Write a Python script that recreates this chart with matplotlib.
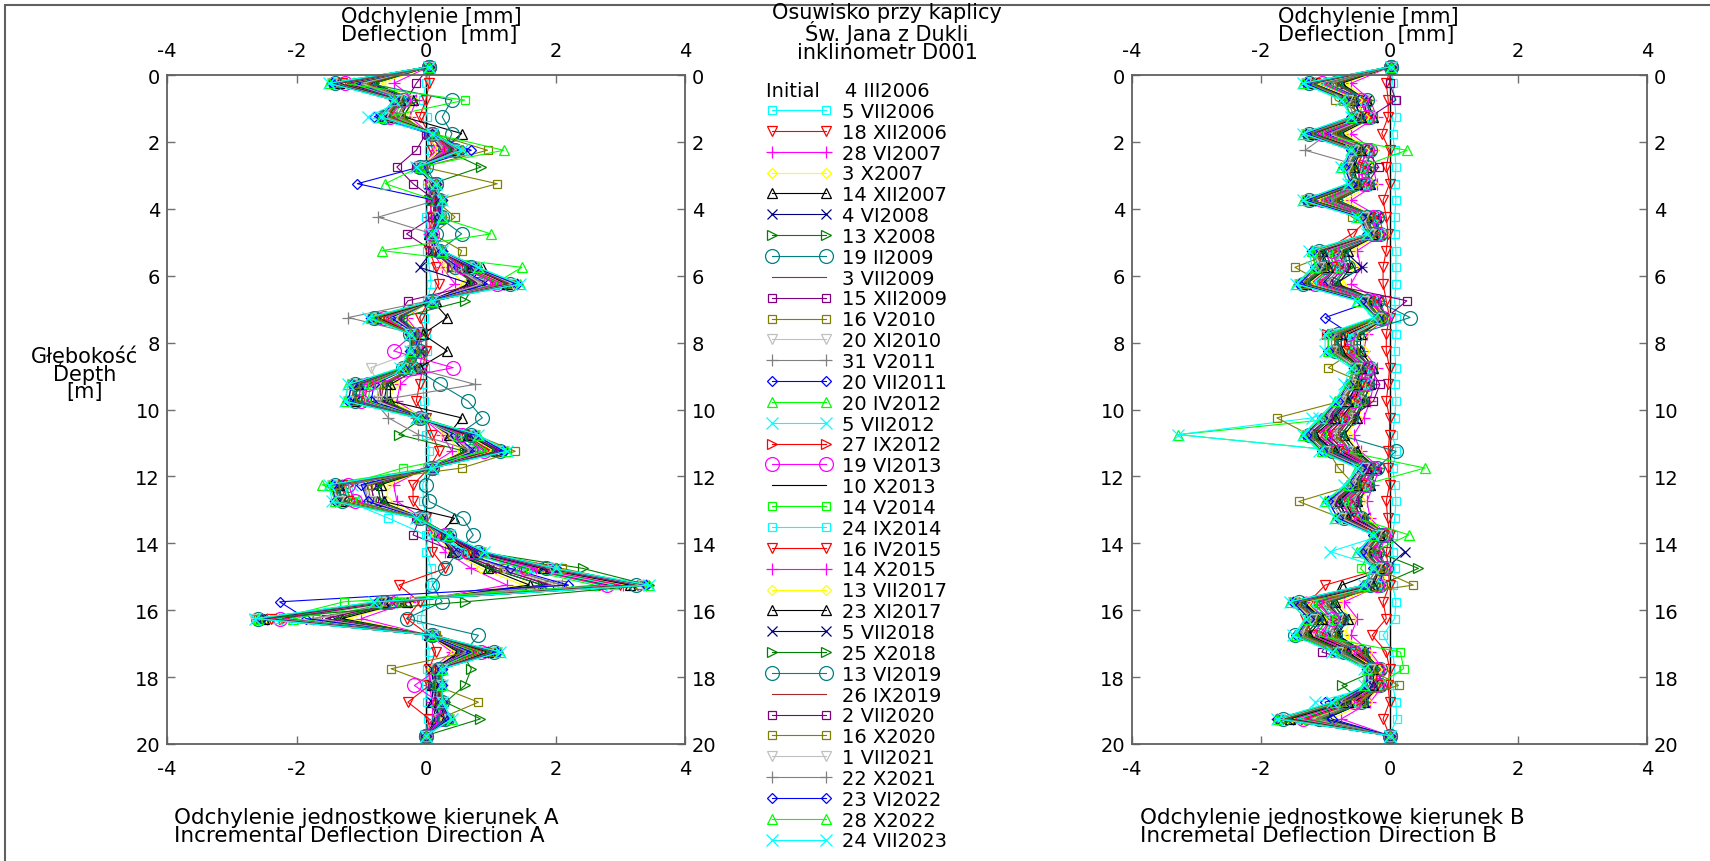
import matplotlib
matplotlib.use("Agg")
import matplotlib.pyplot as plt
from matplotlib.patches import Rectangle

plt.rcParams['font.family'] = ['DejaVu Sans']
plt.rcParams['axes.unicode_minus'] = False

## depth of every reading [m]
depth = [-0.25, 0.25, 0.75, 1.25, 1.75, 2.25, 2.75, 3.25, 3.75, 4.25, 4.75, 5.25, 5.75, 6.25,
         6.75, 7.25, 7.75, 8.25, 8.75, 9.25, 9.75, 10.25, 10.75, 11.25, 11.75, 12.25, 12.75,
         13.25, 13.75, 14.25, 14.75, 15.25, 15.75, 16.25, 16.75, 17.25, 17.75, 18.25, 18.75,
         19.25, 19.75]

dates = ["5 VII2006", "18 XII2006", "28 VI2007", "3 X2007", "14 XII2007", "4 VI2008",
         "13 X2008", "19 II2009", "3 VII2009", "15 XII2009", "16 V2010", "20 XI2010",
         "31 V2011", "20 VII2011", "20 IV2012", "5 VII2012", "27 IX2012", "19 VI2013",
         "10 X2013", "14 V2014", "24 IX2014", "16 IV2015", "14 X2015", "13 VII2017",
         "23 XI2017", "5 VII2018", "25 X2018", "13 VI2019", "26 IX2019", "2 VII2020",
         "16 X2020", "1 VII2021", "22 X2021", "23 VI2022", "28 X2022", "24 VII2023"]

## direction A, incremental deflection [mm]
a00 = [0.05, 0.0, -0.05, 0.02, 0.03, 0.05, 0.0, 0.02, 0.04, 0.0, 0.03, 0.02, 0.05, 0.08, 0.02, -0.03, 0.0, 0.02, -0.02, -0.05, -0.03, 0.0, 0.0, 0.05, 0.02, -0.05, -0.04, 0.0, 0.03, 0.0, 0.08, 0.1, -0.02, -0.08, 0.0, 0.05, 0.02, 0.0, 0.02, 0.03, 0.0]
a01 = [0.05, 0.05, 0.0, -0.1, 0.05, 0.1, 0.0, 0.05, 0.05, 0.1, 0.05, 0.05, 0.15, 0.2, 0.05, -0.1, 0.0, 0.0, -0.05, -0.1, -0.15, 0.0, 0.1, 0.2, 0.05, -0.2, -0.2, 0.0, 0.1, 0.1, 0.3, -0.42, -0.1, -0.3, 0.05, 0.15, 0.05, 0.05, -0.28, 0.05, 0.0]
a02 = [0.05, -0.5, -0.15, -0.25, 0.05, 0.15, -0.05, 0.05, 0.1, 0.05, 0.05, 0.1, 0.25, 0.45, 0.05, -0.3, -0.1, -0.05, -0.1, -0.4, -0.45, -0.05, 0.25, 0.4, 0.0, -0.5, -0.45, -0.05, 0.1, 0.3, 0.7, 1.25, -0.25, -1.0, 0.05, 0.4, 0.1, 0.05, 0.1, 0.1, 0.0]
a03 = [0.05, -0.7, -0.2, -0.3, 0.0, 0.2, -0.1, 0.05, 0.15, 0.1, 0.1, 0.1, 0.3, 0.6, 0.1, -0.35, -0.1, -0.15, -0.15, -0.5, -0.55, 0.0, 0.3, 0.55, 0.05, -0.6, -0.6, -0.05, 0.15, 0.4, 0.85, 1.5, -0.3, -1.2, 0.05, 0.45, 0.1, 0.1, 0.15, 0.15, 0.0]
a04 = [0.05, -0.8, -0.2, -0.35, 0.55, 0.25, -0.05, 0.1, 0.15, 0.15, 0.05, 0.15, 0.87, 0.65, 0.1, 0.33, -0.05, 0.33, -0.1, -0.55, -0.55, 0.55, 0.35, 0.6, 0.1, -0.7, -0.65, 0.44, 0.2, 0.4, 0.95, 1.6, -0.3, -1.3, 0.05, 0.5, 0.15, 0.1, 0.1, 0.15, 0.0]
a05 = [0.05, -0.85, -0.25, -0.4, 0.05, 0.25, -0.05, 0.05, 0.1, 0.15, 0.1, 0.1, -0.1, 0.7, 0.05, -0.4, -0.15, -0.1, -0.2, -0.6, -0.65, -0.05, 0.35, 0.6, 0.05, -0.75, -0.7, -0.05, 0.2, 0.4, 1.0, 1.8, -0.35, -1.4, 0.05, 0.55, 0.1, 0.1, 0.1, 0.2, 0.0]
a06 = [0.05, -0.8, -0.2, -0.35, 0.05, 0.3, 0.85, 0.1, 0.1, 0.15, 0.1, 0.15, 0.4, 0.75, 0.6, -0.4, -0.1, -0.1, -0.2, -0.6, -0.6, -0.05, -0.42, 0.6, 0.1, -0.75, -0.7, -0.1, 0.2, 0.45, 1.0, 1.8, -0.4, -1.4, 0.1, 0.55, 0.7, 0.6, 0.3, 0.84, 0.0]
a07 = [0.05, -0.9, 0.4, 0.25, 0.4, 0.3, 0.0, 0.15, 0.2, 0.2, 0.55, 0.2, 0.45, 0.8, 0.1, -0.4, -0.1, -0.1, -0.2, 0.22, 0.65, 0.87, 0.5, 0.7, 0.1, 0.0, 0.05, 0.57, 0.73, 0.5, 0.3, 0.1, 0.25, -0.3, 0.81, 0.6, 0.2, 0.15, 0.2, 0.2, 0.0]
a08 = [0.05, -0.9, -0.3, -0.4, 0.05, 0.25, -0.05, 0.05, 0.15, 0.1, 0.1, 0.15, 0.4, 0.8, 0.05, -0.45, -0.15, -0.15, -0.2, -0.65, -0.7, -0.05, 0.4, 0.65, 0.05, -0.85, -0.8, -0.05, 0.2, 0.45, 1.1, 1.95, -0.4, -1.55, 0.05, 0.6, 0.15, 0.15, 0.15, 0.2, 0.0]
a09 = [0.05, -0.15, -0.3, -0.45, 0.0, -0.15, -0.45, -0.2, 0.15, 0.1, -0.3, 0.1, 0.4, 0.8, -0.28, -0.45, -0.15, -0.15, -0.2, -0.7, -0.7, -0.05, 0.4, 0.7, 0.05, -0.85, -0.8, -0.1, -0.2, 0.45, 1.1, 1.9, -0.4, -1.55, 0.05, 0.6, 0.15, 0.1, 0.15, 0.2, 0.0]
a10 = [0.05, -0.95, -0.3, -0.4, 0.1, 0.95, -0.05, 1.1, 0.15, 0.45, 0.1, 0.55, 0.45, 0.85, 0.1, -0.5, -0.15, -0.15, -0.2, -0.7, -0.75, -0.05, 0.4, 0.7, 0.05, -0.9, -0.85, -0.05, 0.2, 0.5, 1.2, 2.1, -0.4, -1.7, 0.05, 0.65, -0.54, 0.15, 0.81, 0.2, 0.0]
a11 = [0.05, -1.0, -0.3, -0.45, 0.05, 0.3, -0.1, 0.1, 0.15, 0.15, 0.05, 0.15, 0.45, 0.85, 0.05, -0.5, -0.15, -0.15, -0.85, -0.75, -0.75, -0.1, 0.4, 0.7, 0.05, -0.95, -0.85, -0.05, 0.2, 0.5, 1.2, 2.0, -0.45, -1.7, 0.05, 0.65, 0.15, 0.15, 0.15, 0.2, 0.0]
a12 = [0.05, -1.05, -0.3, -0.45, 0.1, 0.3, -0.05, 0.1, 0.15, -0.74, 0.1, 0.15, 0.45, 0.9, 0.05, -1.2, -0.15, -0.15, -0.2, 0.76, -0.8, -0.58, -0.12, 0.75, 0.05, -0.95, -0.9, -0.05, 0.2, 0.5, 1.25, 2.1, -0.45, -1.75, 0.05, 0.65, 0.15, 0.15, 0.15, 0.2, 0.0]
a13 = [0.05, -1.1, -0.35, -0.8, 0.05, 0.7, -0.1, -1.06, 0.15, 0.15, 0.1, 0.15, 0.5, 0.95, 0.05, -0.55, -0.15, -0.15, -0.25, -0.8, -0.85, -0.05, 0.45, 0.75, 0.05, -1.0, -0.9, -0.1, 0.25, 0.5, 1.3, 2.2, -2.26, -1.85, 0.05, 0.7, 0.15, 0.15, 0.15, 0.2, 0.0]
a14 = [0.05, -1.15, -0.35, -0.5, 0.1, 1.2, -0.1, -0.63, 0.15, 0.2, 1.0, -0.68, 1.48, 1.05, 0.1, -0.6, -0.2, -0.15, -0.25, -0.85, -0.9, -0.1, 0.5, 0.85, 0.05, -1.6, -1.05, -0.1, 0.25, 0.6, 1.45, 2.6, -0.5, -2.05, 0.1, 0.75, 0.15, 0.2, 0.15, 0.25, 0.0]
a15 = [0.05, -1.2, -0.35, -0.9, 0.1, 0.35, -0.1, 0.1, 0.2, 0.2, 0.1, 0.2, 0.55, 1.1, 0.1, -0.65, -0.2, -0.2, -0.25, -0.9, -0.95, -0.1, 0.55, 0.9, 0.1, -1.15, -1.1, -0.1, 0.25, 0.6, 1.5, 2.7, -0.55, -2.15, 0.1, 0.8, 0.2, 0.2, 0.2, 0.25, 0.0]
a16 = [0.05, -1.2, -0.4, -0.55, 0.1, 0.35, -0.1, 0.1, 0.2, 0.15, 0.1, 0.2, 0.55, 1.1, 0.1, -0.65, -0.2, -0.15, -0.3, -0.9, -0.95, -0.1, 0.55, 0.95, 0.1, -1.2, -1.1, -0.1, 0.3, 0.65, 1.55, 2.75, -0.55, -2.2, 0.1, 0.8, 0.2, 0.2, 0.2, 0.25, 0.0]
a17 = [0.05, -1.25, -0.35, -0.55, 0.1, 0.35, -0.1, 0.1, 0.2, 0.2, 0.1, 0.2, 0.55, 1.1, 0.1, -0.65, -0.2, -0.5, 0.42, -0.9, -1.0, -0.1, 0.55, 0.9, 0.1, -1.2, -1.1, -0.1, 0.3, 0.65, 1.55, 2.8, -0.55, -2.25, 0.1, 0.85, 0.2, -0.18, 0.2, 0.25, 0.0]
a18 = [0.05, -1.25, -0.4, -0.6, 0.1, 0.4, -0.1, 0.1, 0.2, 0.2, 0.1, 0.2, 0.6, 1.15, 0.1, -0.7, -0.2, -0.2, -0.3, -0.95, -1.0, -0.1, 0.6, 0.95, 0.1, -1.25, -1.15, -0.1, 0.3, 0.65, 1.6, 2.85, -0.55, -2.3, 0.1, 0.85, 0.2, 0.2, 0.2, 0.3, 0.0]
a19 = [0.05, -1.3, 0.6, -0.6, 0.1, 0.4, -0.1, 0.1, 0.2, 0.2, 0.1, 0.2, 0.6, 1.15, 0.1, -0.7, -0.2, -0.2, -0.3, -0.95, -1.0, -0.1, 0.6, 0.95, -0.36, -1.25, -1.15, -0.1, 0.3, 0.7, 1.6, 2.9, -1.27, -2.3, 0.1, 0.85, 0.2, 0.2, 0.2, 0.3, 0.0]
a20 = [0.05, -1.3, -0.4, -0.6, 0.1, 0.4, -0.1, 0.1, 0.2, 0.2, 0.1, 0.2, 0.6, 1.2, 0.1, -0.7, -0.2, -0.2, -0.3, -1.0, -1.0, -0.1, 0.6, 1.0, 0.1, -1.25, -1.2, -0.58, 0.0, 0.7, 1.65, 2.9, -0.6, -2.35, 0.1, 0.9, 0.2, 0.2, 0.2, 0.3, 0.0]
a21 = [0.05, -1.3, -0.45, -0.6, 0.1, 0.4, -0.1, 0.1, 0.2, 0.2, 0.1, 0.2, 0.6, 1.2, 0.1, -0.7, -0.2, -0.2, -0.3, -1.0, -1.05, -0.1, 0.6, 1.0, 0.1, -1.3, -1.2, -0.1, 0.3, 0.7, 1.7, 3.0, -0.6, -2.4, 0.1, 0.9, 0.2, 0.2, 0.2, 0.3, 0.0]
a22 = [0.05, -1.35, -0.4, -0.65, 0.1, 0.45, -0.1, 0.15, 0.2, 0.2, 0.1, 0.25, 0.65, 1.2, 0.1, -0.75, -0.2, -0.2, -0.3, -1.0, -1.05, -0.1, 0.65, 1.05, 0.1, -1.3, -1.25, -0.1, 0.35, 0.75, 1.7, 3.05, -0.6, -2.45, 0.15, 0.95, 0.2, 0.2, 0.25, 0.3, 0.0]
a23 = [0.05, -1.35, -0.45, -0.65, 0.1, 0.45, -0.1, 0.1, 0.25, 0.2, 0.1, 0.2, 0.65, 1.25, 0.1, -0.75, -0.25, -0.2, -0.3, -1.05, -1.1, -0.1, 0.65, 1.05, 0.1, -1.35, -1.25, -0.1, 0.3, 0.75, 1.8, 3.1, -0.65, -2.5, 0.1, 0.95, 0.2, 0.2, 0.2, 0.3, 0.0]
a24 = [0.05, -1.35, -0.4, -0.6, 0.15, 0.45, -0.1, 0.15, 0.2, 0.25, 0.1, 0.2, 0.7, 1.25, 0.15, -0.75, -0.2, -0.2, -0.35, -1.05, -1.1, -0.1, 0.65, 1.1, 0.1, -1.35, -1.3, -0.1, 0.35, 0.75, 1.8, 3.15, -0.65, -2.5, 0.1, 0.95, 0.25, 0.2, 0.2, 0.3, 0.0]
a25 = [0.05, -1.4, -0.45, -0.65, 0.1, 0.45, -0.15, 0.1, 0.2, 0.2, 0.1, 0.2, 0.65, 1.3, 0.1, -0.8, -0.25, -0.25, -0.35, -1.05, -1.1, -0.15, 0.65, 1.1, 0.1, -1.35, -1.3, -0.15, 0.3, 0.75, 1.8, 3.2, -0.65, -2.55, 0.1, 1.0, 0.2, 0.2, 0.2, 0.3, 0.0]
a26 = [0.05, -1.4, -0.4, -0.6, 0.1, 0.45, -0.1, 0.15, 0.25, 0.2, 0.1, 0.25, 0.7, 1.3, 0.1, -0.8, -0.2, -0.2, -0.3, -1.05, -1.1, -0.1, 0.7, 1.1, 0.1, -1.35, -1.3, -0.1, 0.35, 0.8, 2.42, 3.44, 0.6, -2.55, 0.1, 1.0, 0.25, 0.2, 0.25, 0.35, 0.0]
a27 = [0.05, -1.4, -0.45, -0.65, 0.1, 0.45, -0.1, 0.15, 0.2, 0.25, 0.15, 0.2, 0.7, 1.3, 0.1, -0.8, -0.25, -0.2, -0.35, -1.1, -1.1, -0.1, 0.7, 1.15, 0.1, -1.4, -1.3, -0.1, 0.35, 0.8, 1.85, 3.25, -0.65, -2.6, 0.1, 1.05, 0.2, 0.2, 0.25, 0.3, 0.0]
a28 = [0.05, -1.4, -0.45, -0.6, 0.1, 0.5, -0.1, 0.1, 0.25, 0.2, 0.1, 0.25, 0.7, 1.3, 0.1, -0.8, -0.2, -0.25, -0.35, -1.1, -1.15, -0.1, 0.7, 1.15, 0.1, -1.4, -1.35, -0.1, 0.35, 0.8, 1.85, 3.25, -0.7, -2.6, 0.1, 1.05, 0.25, 0.2, 0.2, 0.35, 0.0]
a29 = [0.05, -1.4, -0.45, -0.65, 0.1, 0.45, -0.15, 0.15, 0.2, 0.2, 0.1, 0.2, 0.7, 1.35, 0.1, -0.8, -0.25, -0.2, -0.35, -1.1, -1.15, -0.1, 0.7, 1.15, 0.1, -1.4, -1.35, -0.15, 0.3, 0.8, 1.9, 3.3, -0.7, -2.6, 0.1, 1.05, 0.2, 0.25, 0.2, 0.35, 0.0]
a30 = [0.05, -1.4, -0.45, -0.6, 0.1, 0.5, -0.1, 0.15, 0.25, 0.25, 0.1, 0.25, 0.75, 1.35, 0.1, -0.8, -0.2, -0.2, -0.35, -1.1, -1.15, -0.1, 0.75, 1.38, 0.55, -1.4, -1.35, -0.1, 0.35, 0.85, 2.1, 3.3, -0.7, -2.6, 0.15, 1.05, 0.25, 0.2, 0.25, 0.35, 0.0]
a31 = [0.05, -1.45, -0.45, -0.65, 0.1, 0.5, -0.1, 0.1, 0.25, 0.2, 0.1, 0.2, 0.75, 1.35, 0.1, -0.85, -0.25, -0.25, -0.35, -1.15, -1.2, -0.1, 0.75, 1.2, 0.1, -1.45, -1.35, -0.1, 0.35, 0.85, 1.95, 3.35, -0.7, -2.65, 0.1, 1.1, 0.25, 0.25, 0.25, 0.35, 0.0]
a32 = [0.05, -1.45, -0.5, -0.7, 0.1, 0.5, -0.1, 0.15, 0.25, 0.25, 0.1, 0.25, 0.75, 1.4, 0.1, -0.85, -0.25, -0.25, -0.35, -1.15, -1.2, -0.15, 0.75, 1.2, 0.1, -1.45, -1.4, -0.1, 0.35, 0.85, 1.95, 3.4, -0.7, -2.6, 0.1, 1.1, 0.25, 0.25, 0.25, 0.35, 0.0]
a33 = [0.05, -1.45, -0.5, -0.7, 0.1, 0.55, -0.1, 0.15, 0.25, 0.2, 0.1, 0.25, 0.75, 1.4, 0.1, -0.85, -0.25, -0.25, -0.35, -1.15, -1.2, -0.1, 0.75, 1.2, 0.1, -1.45, -1.4, -0.1, 0.35, 0.85, 2.0, 3.4, -0.75, -2.55, 0.1, 1.1, 0.25, 0.25, 0.25, 0.35, 0.0]
a34 = [0.05, -1.5, -0.5, -0.7, 0.15, 0.55, -0.1, 0.15, 0.25, 0.25, 0.1, 0.25, 0.8, 1.45, 0.1, -0.85, -0.25, -0.25, -0.35, -1.2, -1.25, -0.1, 0.8, 1.25, 0.1, -1.5, -1.4, -0.1, 0.35, 0.9, 2.0, 3.45, -0.75, -2.6, 0.1, 1.15, 0.25, 0.25, 0.25, 0.4, 0.0]
a35 = [0.05, -1.5, -0.5, -0.7, 0.1, 0.55, -0.15, 0.15, 0.25, 0.25, 0.1, 0.25, 0.8, 1.45, 0.1, -0.9, -0.25, -0.25, -0.4, -1.2, -1.25, -0.15, 0.8, 1.25, 0.1, -1.5, -1.45, -0.15, 0.35, 0.9, 2.0, 3.45, -0.8, -2.64, 0.1, 1.15, 0.25, 0.25, 0.25, 0.4, 0.0]

## direction B, incremental deflection [mm]
b00 = [0.03, 0.05, 0.08, 0.1, 0.05, 0.08, 0.1, 0.08, 0.1, 0.08, 0.08, 0.1, 0.1, 0.1, 0.08, 0.1, 0.1, 0.08, 0.1, 0.08, 0.1, 0.08, 0.05, 0.1, 0.05, 0.08, 0.1, 0.08, 0.05, 0.05, 0.08, 0.05, 0.1, 0.08, -0.1, 0.05, 0.08, 0.05, 0.1, 0.11, 0.0]
b01 = [0.02, -0.05, -0.02, -0.02, -0.12, 0.0, -0.05, 0.0, -0.1, -0.05, -0.02, -0.05, -0.1, -0.1, -0.05, 0.0, -0.05, -0.05, 0.0, -0.02, -0.05, 0.0, 0.0, -0.02, -0.02, 0.0, -0.05, -0.03, 0.0, -0.05, -0.02, 0.0, -0.1, -0.05, -0.27, -0.05, 0.0, -0.02, 0.0, -0.1, 0.0]
b02 = [0.02, -0.6, -0.3, -0.2, -0.6, -0.25, -0.25, -0.2, -0.6, -0.15, -0.1, -0.5, -0.45, -0.6, -0.15, -0.05, -0.35, -0.4, -0.2, -0.25, -0.3, -0.4, -0.55, -0.45, -0.15, -0.25, -0.35, -0.3, -0.05, -0.15, -0.05, -0.15, -0.7, -0.5, -0.6, -0.3, -0.1, -0.1, -0.3, -0.75, 0.0]
b03 = [0.02, -0.7, -0.3, -0.25, -0.7, -0.25, -0.3, -0.25, -0.7, -0.2, -0.1, -0.6, -0.55, -0.75, -0.2, -0.05, -0.4, -0.4, -0.25, -0.3, -0.35, -0.5, -0.65, -0.5, -0.2, -0.3, -0.45, -0.35, -0.05, -0.2, -0.05, -0.1, -0.8, -0.6, -0.7, -0.35, -0.1, -0.15, -0.35, -0.9, 0.0]
b04 = [0.02, -0.75, -0.35, -0.25, -0.75, -0.3, -0.35, -0.3, -1.26, -0.2, -0.15, -0.65, -0.6, -0.8, -0.2, -0.05, -0.45, -0.45, -0.25, -0.3, -0.4, -0.5, -0.7, -0.5, -0.2, -0.3, -0.5, -0.4, -0.05, -0.2, -0.05, -0.74, -0.85, -0.65, -0.8, -0.4, -0.15, -0.15, -0.4, -1.0, 0.0]
b05 = [0.02, -0.8, -0.35, -0.3, -0.8, -0.3, -0.35, -0.3, -0.8, -0.2, -0.15, -0.7, -0.43, -0.85, -0.2, -0.05, -0.5, -0.5, -0.3, -0.3, -0.4, -0.55, -0.75, -0.55, -0.2, -0.3, -0.5, -0.4, -0.05, 0.24, -0.05, -0.15, -0.9, -0.7, -0.8, -0.4, -0.15, -0.15, -0.4, -1.0, 0.0]
b06 = [0.02, -0.8, -0.35, -0.3, -0.8, -0.3, -0.35, -0.3, -0.8, -0.2, -0.15, -0.7, -0.65, -0.85, -0.2, -0.05, -0.5, -0.5, -0.3, -0.3, -0.4, -0.55, -0.75, -0.55, -0.2, -0.3, -0.5, -0.4, -0.05, -0.2, 0.45, -0.15, -0.9, -0.7, -0.85, -0.4, -0.15, -0.74, -0.4, -1.05, 0.0]
b07 = [0.02, -0.85, -0.35, -0.3, -0.85, -0.3, -0.35, -0.35, -0.85, -0.2, -0.15, -0.75, -0.65, -0.9, -0.2, 0.32, -0.5, -0.5, -0.3, -0.35, -0.45, -0.6, -0.8, 0.1, -0.2, -0.35, -0.55, -0.45, -0.05, -0.2, -0.05, -0.15, -0.95, -0.75, -0.85, -0.45, -0.15, -0.15, -0.45, -1.1, 0.0]
b08 = [0.02, -0.85, -0.4, -0.3, -0.85, -0.3, -0.4, -0.35, -0.85, -0.25, -0.15, -0.75, -0.7, -0.95, -0.25, -0.05, -0.55, -0.55, -0.3, -0.35, -0.45, -0.6, -0.8, -0.6, -0.25, -0.35, -0.55, -0.45, -0.05, -0.25, -0.05, -0.15, -1.0, -0.75, -0.9, -0.45, -0.15, -0.15, -0.45, -1.1, 0.0]
b09 = [0.02, 0.0, 0.1, -0.3, -0.9, -0.35, -0.17, -0.35, -0.9, -0.25, -0.15, -0.8, -0.7, -0.95, 0.27, -0.05, -0.55, -0.55, -0.3, -0.15, -0.25, -0.6, -0.85, -0.6, -0.25, -0.35, -0.55, -0.45, -0.05, -0.25, -0.05, -0.15, -1.0, -0.75, -0.9, -1.05, -0.15, -0.15, -0.45, -1.15, 0.0]
b10 = [0.02, -0.9, -0.84, -0.3, -0.9, -0.3, -0.4, -0.35, -0.9, -0.58, -0.15, -0.8, -1.47, -1.0, -0.25, -0.05, -0.55, -0.55, -0.95, -0.35, -0.45, -0.65, -0.85, -0.6, -0.25, -0.35, -0.6, -0.45, -0.05, -0.25, -0.05, -0.15, -1.0, -0.8, -0.9, -0.45, -0.15, -0.15, -0.45, -1.15, 0.0]
b11 = [0.02, -0.95, -0.4, -0.3, -0.95, -0.3, -0.4, -0.35, -0.95, -0.25, -0.15, -0.8, -0.75, -1.0, -0.25, -0.05, -0.55, -0.6, -0.3, -0.35, -0.5, -0.65, -0.9, -0.65, -0.25, -0.35, -0.6, -0.5, -0.05, -0.25, -0.05, -0.15, -1.05, -0.8, -0.95, -0.5, -0.15, -0.15, -0.5, -1.2, 0.0]
b12 = [0.02, -0.95, -0.4, -0.35, -0.95, -1.31, -0.4, -0.35, -0.95, -0.25, -0.15, -0.85, -0.75, -1.0, -0.25, -0.1, -0.6, -0.6, -0.35, -0.35, -0.5, -0.65, -0.9, -0.65, -0.25, -0.35, -0.6, -0.5, -0.1, -0.25, -0.1, -0.15, -1.05, -0.8, -0.95, -0.5, -0.15, -0.15, -0.5, -1.1, 0.0]
b13 = [0.02, -1.0, -0.4, -0.35, -1.0, -0.35, -0.45, -0.4, -1.0, -0.25, -0.15, -0.85, -0.8, -1.05, -0.25, -1.0, -0.6, -0.6, -0.35, -0.4, -0.5, -0.7, -0.95, -0.7, -0.25, -0.4, -0.65, -0.5, -0.1, -0.25, -0.1, -0.15, -1.5, -0.85, -1.0, -0.5, -0.15, -0.15, -1.0, -0.9, 0.0]
b14 = [0.02, -1.0, -0.45, -0.35, -1.26, 0.27, -0.45, -0.4, -1.0, -0.25, -0.2, -0.85, -0.8, -1.1, -0.25, -0.1, -0.6, -0.6, -0.35, -0.4, -0.5, -0.7, -3.28, -0.7, 0.55, -0.4, -0.65, -0.5, 0.3, -0.25, -0.1, -0.2, -1.1, -0.85, -1.0, -0.5, -0.2, -0.2, -0.5, -1.25, 0.0]
b15 = [0.02, -1.05, -0.45, -0.35, -1.05, -0.35, -0.45, -0.4, -1.05, -0.25, -0.2, -0.9, -0.8, -1.1, -0.25, -0.1, -0.6, -0.65, -0.35, -0.4, -0.55, -1.2, -3.28, -0.7, -0.25, -0.4, -0.65, -0.55, -0.1, -0.92, -0.1, -0.2, -1.1, -0.85, -1.05, -0.5, -0.2, -0.2, -1.15, -1.3, 0.0]
b16 = [0.02, -1.05, -0.45, -0.35, -1.05, -0.35, -0.45, -0.4, -1.05, -0.25, -0.2, -0.9, -0.8, -1.1, -0.25, -0.1, -0.97, -0.65, -0.35, -0.4, -0.55, -0.7, -0.95, -0.7, -0.25, -0.4, -0.65, -0.55, -0.1, -0.25, -0.1, -0.2, -1.1, -0.9, -1.05, -0.5, -0.2, -0.2, -0.5, -1.3, 0.0]
b17 = [0.02, -1.05, -0.45, -0.35, -1.05, -0.35, -0.45, -0.4, -1.05, -0.25, -0.2, -0.9, -0.8, -1.15, -0.25, -0.1, -0.65, -0.65, -0.35, -0.4, -0.55, -0.75, -1.0, -0.75, -0.25, -0.4, -0.7, -0.55, -0.1, -0.25, -0.1, -0.2, -1.15, -0.9, -1.1, -0.55, -0.2, -0.2, -0.55, -1.35, 0.0]
b18 = [0.02, -1.1, -0.5, -0.4, -1.1, -0.4, -0.5, -0.45, -1.1, -0.3, -0.2, -0.95, -0.85, -1.2, -0.3, -0.1, -0.65, -0.7, -0.4, -0.45, -0.55, -0.75, -1.05, -0.75, -0.3, -0.45, -0.7, -0.55, -0.1, -0.3, -0.1, -0.2, -1.2, -0.95, -1.15, -0.55, -0.2, -0.2, -0.55, -1.4, 0.0]
b19 = [0.02, -1.1, -0.5, -0.4, -1.1, -0.4, -0.5, -0.45, -1.1, -0.3, -0.2, -0.95, -0.85, -1.2, -0.3, -0.1, -0.7, -0.7, -0.4, -0.45, -0.6, -0.8, -1.05, -0.8, -0.3, -0.45, -0.7, -0.6, -0.1, -0.3, -0.45, -0.2, -1.2, -0.95, -1.15, 0.17, 0.22, -0.2, -0.6, -1.4, 0.0]
b20 = [0.02, -1.1, -0.5, -0.4, -1.15, -0.4, -0.5, -0.45, -1.15, -0.3, -0.2, -1.0, -0.9, -1.2, -0.3, -0.1, -0.7, -0.7, -0.4, -0.45, -0.6, -0.8, -1.1, -0.8, -0.3, -0.45, -0.75, -0.6, -0.1, -0.3, -0.1, -0.2, -1.25, -1.0, -1.2, -0.6, -0.2, -0.2, -0.6, -1.45, 0.0]
b21 = [0.02, -1.15, -0.5, -0.4, -1.15, -0.4, -0.5, -0.45, -1.15, -0.3, -0.58, -1.0, -0.9, -1.25, -0.3, -0.1, -0.7, -0.7, -0.4, -0.45, -0.6, -0.8, -1.1, -0.8, -0.3, -0.45, -0.75, -0.6, -0.1, -0.3, -0.1, -1.0, -1.25, -1.31, -1.2, -0.6, -0.2, -0.2, -0.6, -1.5, 0.0]
b22 = [0.02, -1.15, -0.55, -0.45, -1.15, -0.45, -0.5, -0.45, -1.15, -0.3, -0.2, -1.0, -0.9, -1.25, -0.3, -0.1, -0.75, -0.75, -0.4, -0.5, -0.6, -0.85, -1.1, -0.8, -0.3, -0.5, -0.75, -0.6, -0.1, -0.3, -0.1, -0.25, -1.3, -1.0, -1.2, -0.6, -0.25, -0.2, -0.6, -1.5, 0.0]
b23 = [0.02, -1.15, -0.5, -0.4, -1.2, -0.4, -0.55, -0.5, -1.15, -0.35, -0.2, -1.05, -0.95, -1.25, -0.35, -0.1, -0.75, -0.75, -0.45, -0.5, -0.65, -0.85, -1.15, -0.85, -0.35, -0.5, -0.8, -0.65, -0.1, -0.35, -0.1, -0.25, -1.3, -1.05, -1.25, -0.65, -0.2, -0.25, -0.65, -1.55, 0.0]
b24 = [0.02, -1.2, -0.55, -0.45, -1.2, -0.45, -0.55, -0.5, -1.2, -0.35, -0.25, -1.05, -0.95, -1.3, -0.35, -0.15, -0.75, -0.75, -0.45, -0.5, -0.65, -0.85, -1.15, -0.85, -0.35, -0.5, -0.8, -0.65, -0.15, -0.35, -0.15, -0.25, -1.35, -1.05, -1.25, -0.65, -0.25, -0.25, -0.65, -1.55, 0.0]
b25 = [0.02, -1.2, -0.55, -0.45, -1.2, -0.45, -0.6, -0.5, -1.2, -0.35, -0.25, -1.05, -1.0, -1.3, -0.35, -0.15, -0.8, -0.8, -0.45, -0.5, -0.65, -0.9, -1.2, -0.85, -0.35, -0.5, -0.8, -0.65, -0.15, -0.35, -0.15, -0.3, -1.35, -1.1, -1.3, -0.7, -0.25, -0.25, -0.7, -1.6, 0.0]
b26 = [0.02, -1.2, -0.6, -0.5, -1.2, -0.5, -0.6, -0.5, -1.2, -0.35, -0.25, -1.1, -1.0, -1.3, -0.35, -0.15, -0.8, -0.8, -0.45, -0.55, -0.7, -0.9, -1.2, -0.9, -0.35, -0.5, -0.85, -0.7, -0.15, -0.35, -0.15, -0.3, -1.4, -1.1, -1.3, -0.7, -0.25, -0.3, -0.7, -1.6, 0.0]
b27 = [0.02, -1.25, -0.6, -0.5, -1.25, -0.5, -0.6, -0.55, -1.25, -0.35, -0.25, -1.1, -1.0, -1.35, -0.35, -0.15, -0.8, -0.85, -0.5, -0.55, -0.7, -0.9, -1.25, -0.9, -0.35, -0.55, -0.85, -0.7, -0.15, -0.35, -0.15, -0.3, -1.4, -1.15, -1.47, -0.7, -0.3, -0.3, -0.7, -1.65, 0.0]
b28 = [0.02, -1.25, -0.6, -0.5, -1.25, -0.5, -0.65, -0.55, -1.25, -0.4, -0.25, -1.1, -1.05, -1.35, -0.4, -0.15, -0.85, -0.85, -0.5, -0.55, -0.7, -0.95, -1.25, -0.95, -0.4, -0.55, -0.85, -0.7, -0.15, -0.4, -0.15, -0.3, -1.45, -1.15, -1.35, -0.75, -0.3, -0.3, -0.75, -1.65, 0.0]
b29 = [0.02, -1.25, -0.6, -0.5, -1.25, -0.5, -0.65, -0.55, -1.25, -0.4, -0.3, -1.15, -1.05, -1.35, -0.4, -0.15, -0.85, -0.85, -0.5, -0.55, -0.75, -0.95, -1.25, -0.95, -0.4, -0.55, -0.9, -0.75, -0.2, -0.4, -0.2, -0.35, -1.45, -1.2, -1.35, -0.75, -0.3, -0.3, -0.75, -1.7, 0.0]
b30 = [0.02, -1.25, -0.6, -0.5, -1.25, -0.5, -0.65, -0.55, -1.25, -0.4, -0.3, -1.15, -1.05, -1.35, -0.4, -0.15, -0.85, -0.85, -0.5, -0.55, -0.75, -1.75, -1.25, -0.95, -0.79, -0.55, -1.41, -0.75, -0.2, -0.4, -0.2, 0.37, -1.45, -1.2, -1.35, -0.75, -0.3, 0.14, -0.75, -1.7, 0.0]
b31 = [0.02, -1.3, -0.65, -0.55, -1.3, -0.55, -0.65, -0.6, -1.3, -0.4, -0.3, -1.15, -1.1, -1.4, -0.4, -0.2, -0.9, -0.9, -0.5, -0.6, -0.75, -1.0, -1.3, -1.0, -0.4, -0.6, -0.9, -0.75, -0.2, -0.4, -0.2, -0.35, -1.5, -1.2, -1.4, -0.8, -0.3, -0.35, -0.8, -1.7, 0.0]
b32 = [0.02, -1.3, -0.65, -0.55, -1.3, -0.55, -0.7, -0.6, -1.3, -0.45, -0.3, -1.2, -1.1, -1.4, -0.45, -0.2, -0.9, -0.9, -0.55, -0.6, -0.8, -1.0, -1.3, -1.0, -0.45, -0.6, -0.95, -0.8, -0.2, -0.45, -0.2, -0.35, -1.5, -1.25, -1.4, -0.8, -0.35, -0.35, -0.8, -1.75, 0.0]
b33 = [0.02, -1.3, -0.7, -0.6, -1.3, -0.6, -0.7, -0.6, -1.3, -0.45, -0.35, -1.2, -1.15, -1.4, -0.45, -0.2, -0.95, -0.95, -0.55, -0.65, -0.8, -1.05, -1.3, -1.05, -0.45, -0.65, -0.95, -0.8, -0.25, -0.45, -0.25, -0.4, -1.5, -1.25, -1.45, -0.85, -0.35, -0.35, -0.85, -1.75, 0.0]
b34 = [0.02, -1.35, -0.7, -0.6, -1.35, -0.6, -0.75, -0.65, -1.35, -0.5, -0.35, -1.2, -1.15, -1.45, -0.5, -0.2, -0.95, -0.95, -0.55, -0.65, -0.85, -1.05, -1.35, -1.05, -0.5, -0.65, -1.0, -0.85, -0.25, -0.5, -0.25, -0.4, -1.55, -1.3, -1.45, -0.85, -0.35, -0.4, -0.85, -1.75, 0.0]
b35 = [0.02, -1.35, -0.75, -0.6, -1.35, -0.6, -0.75, -0.65, -1.35, -0.5, -0.35, -1.25, -1.2, -1.45, -0.5, -0.25, -1.0, -1.0, -0.6, -0.7, -0.85, -1.1, -1.35, -1.1, -0.5, -0.7, -1.0, -0.85, -0.25, -0.5, -0.25, -0.4, -1.55, -1.3, -1.5, -0.9, -0.4, -0.4, -0.9, -1.75, 0.0]

series_a = [a00, a01, a02, a03, a04, a05, a06, a07, a08, a09, a10, a11, a12, a13, a14, a15, a16, a17,
            a18, a19, a20, a21, a22, a23, a24, a25, a26, a27, a28, a29, a30, a31, a32, a33, a34, a35]
series_b = [b00, b01, b02, b03, b04, b05, b06, b07, b08, b09, b10, b11, b12, b13, b14, b15, b16, b17,
            b18, b19, b20, b21, b22, b23, b24, b25, b26, b27, b28, b29, b30, b31, b32, b33, b34, b35]

# colour / marker / marker size, repeats every 20 readings
plt_style = [("#00FFFF", "s", 6), ("#FF0000", "v", 7), ("#FF00FF", "+", 8), ("#FFFF00", "D", 5),
             ("#000000", "^", 7), ("#000080", "x", 7), ("#008000", ">", 7), ("#008080", "o", 10),
             ("#A52A2A", "", 0), ("#800080", "s", 6), ("#808000", "s", 6), ("#C0C0C0", "v", 7),
             ("#808080", "+", 8), ("#0000FF", "D", 5), ("#00FF00", "^", 7), ("#00FFFF", "x", 8),
             ("#FF0000", ">", 7), ("#FF00FF", "o", 10), ("#000000", "", 0), ("#00FF00", "s", 6)]

W, H = 1710, 862
fig = plt.figure(figsize=(W / 100, H / 100), dpi=100)

def px_axes(x0, x1, y0, y1):
    return fig.add_axes([x0 / W, 1 - y1 / H, (x1 - x0) / W, (y1 - y0) / H])

def setup(ax):
    ax.set_xlim(-4, 4)
    ax.set_ylim(20, 0)
    ax.set_xticks([-4, -2, 0, 2, 4])
    ax.set_yticks(range(0, 21, 2))
    ax.tick_params(direction="in", top=True, right=True, labeltop=True, labelright=True,
                   labelsize=14, length=6, color="#707070", width=1)
    ax.tick_params(axis="x", pad=11)
    ax.tick_params(axis="y", pad=5)
    for s in ax.spines.values():
        s.set_color("#606060")
        s.set_linewidth(1.3)
    ax.axvline(0, color="k", lw=1, zorder=1)

axA = px_axes(167, 685, 76, 745)
axB = px_axes(1132, 1647, 76, 745)

handles = []
for ax, data in ((axA, series_a), (axB, series_b)):
    setup(ax)
    for i, vals in enumerate(data):
        c, m, ms = plt_style[i % 20]
        ln, = ax.plot(vals, depth, color=c, marker=m if m else None, ms=ms, mfc="none",
                      mew=0.9, lw=0.8, clip_on=False, label=dates[i])
        if ax is axA:
            handles.append(ln)

# legend in the middle column
fig.legend(handles, dates, loc="upper left", bbox_to_anchor=(766 / W, 1 - 82 / H),
           frameon=False, fontsize=14, title="Initial    4 III2006", title_fontsize=14,
           alignment="left", numpoints=2, handlelength=3.4, handletextpad=0.5,
           labelspacing=0.095, borderpad=0, borderaxespad=0)

## texts
fig.text(341 / W, 1 - 26 / H, "Odchylenie [mm]\nDeflection  [mm]", ha="left", va="center",
         fontsize=15, linespacing=0.88)
fig.text(1278 / W, 1 - 26 / H, "Odchylenie [mm]\nDeflection  [mm]", ha="left", va="center",
         fontsize=15, linespacing=0.88)
fig.text(887 / W, 1 - 33 / H, "Osuwisko przy kaplicy\nŚw. Jana z Dukli\ninklinometr D001",
         ha="center", va="center", fontsize=15, linespacing=0.87)
fig.text(85 / W, 1 - 374 / H, "Głębokość\nDepth\n[m]", ha="center", va="center",
         fontsize=15, linespacing=0.85)
fig.text(174 / W, 1 - 827 / H, "Odchylenie jednostkowe kierunek A\nIncremental Deflection Direction A",
         ha="left", va="center", fontsize=15.5, linespacing=0.9)
fig.text(1140 / W, 1 - 827 / H, "Odchylenie jednostkowe kierunek B\nIncremetal Deflection Direction B",
         ha="left", va="center", fontsize=15.5, linespacing=0.9)

# outer frame (top and left edge visible)
fig.add_artist(Rectangle((5 / W, -0.05), 1.2, 1.05 - 6 / H, transform=fig.transFigure,
                         fill=False, ec="#606060", lw=1.5, clip_on=False))

plt.savefig("out.png", dpi=100)
